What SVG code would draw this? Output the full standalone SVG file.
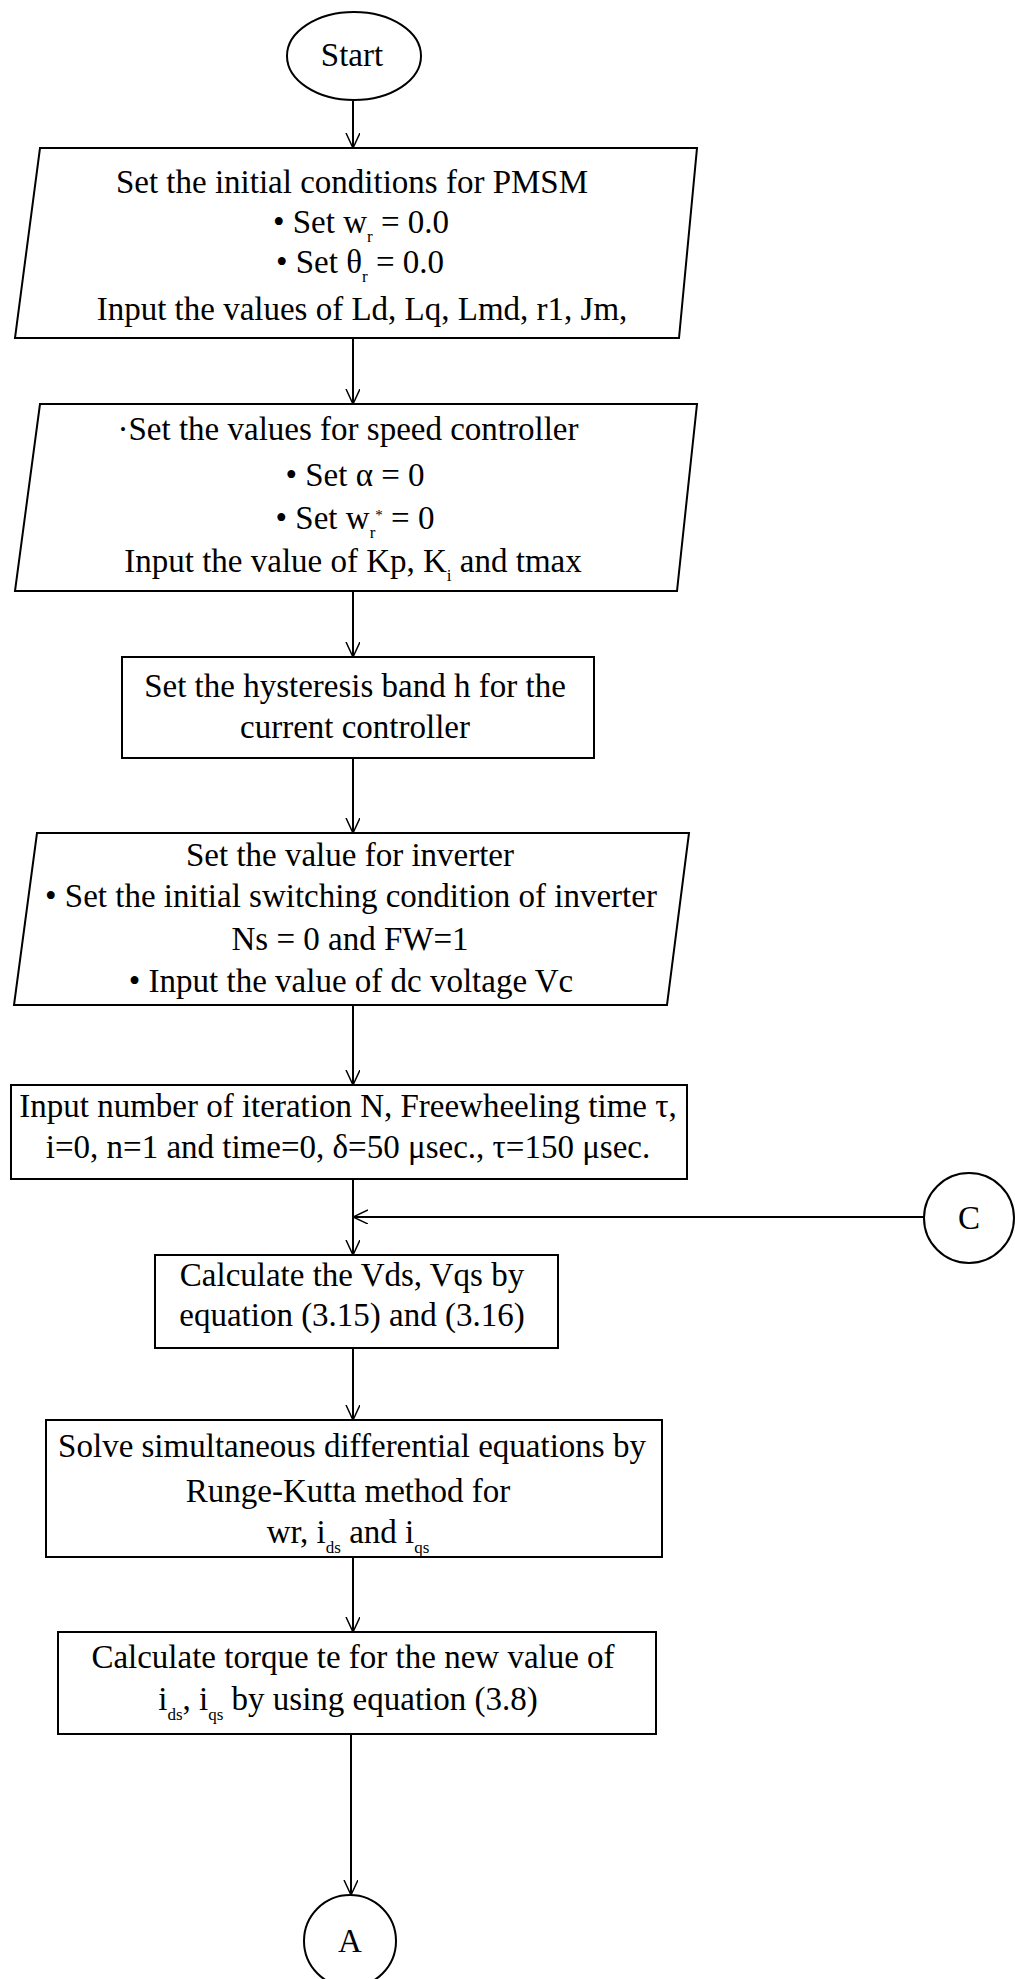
<svg xmlns="http://www.w3.org/2000/svg" width="1015" height="1979" viewBox="0 0 1015 1979">
<defs>
<marker id="ah" markerWidth="16" markerHeight="16" refX="15" refY="7" orient="auto" markerUnits="userSpaceOnUse">
<path d="M0,0 L15,7 L0,14" fill="none" stroke="#000" stroke-width="1.5"/>
</marker>
<style>
.s{fill:#fff;stroke:#000;stroke-width:2}
.c{fill:none;stroke:#000;stroke-width:2}
.t{font-family:"Liberation Serif","Times New Roman",serif;font-size:33px;fill:#000;text-anchor:middle}
.sub{font-size:17px}
.sup{font-size:15px}
</style>
</defs>
<rect width="1015" height="1979" fill="#fff"/>
<g id="connectors">
<line class="c" x1="353" y1="101" x2="353" y2="148" marker-end="url(#ah)"/>
<line class="c" x1="353" y1="338" x2="353" y2="404" marker-end="url(#ah)"/>
<line class="c" x1="353" y1="591" x2="353" y2="657" marker-end="url(#ah)"/>
<line class="c" x1="353" y1="758" x2="353" y2="833" marker-end="url(#ah)"/>
<line class="c" x1="353" y1="1005" x2="353" y2="1085" marker-end="url(#ah)"/>
<line class="c" x1="353" y1="1179" x2="353" y2="1255" marker-end="url(#ah)"/>
<line class="c" x1="924" y1="1217" x2="353" y2="1217" marker-end="url(#ah)"/>
<line class="c" x1="353" y1="1348" x2="353" y2="1420" marker-end="url(#ah)"/>
<line class="c" x1="353" y1="1557" x2="353" y2="1632" marker-end="url(#ah)"/>
<line class="c" x1="351" y1="1734" x2="351" y2="1895" marker-end="url(#ah)"/>
</g>
<g id="start">
<ellipse class="s" cx="354" cy="56" rx="67" ry="44"/>
<text class="t" x="352" y="66">Start</text>
</g>
<g id="init">
<polygon class="s" points="40,148 697,148 679,338 15,338"/>
<text class="t" x="352" y="193">Set the initial conditions for PMSM</text>
<text class="t" x="361" y="233">• Set w<tspan class="sub" dy="9">r</tspan><tspan dy="-9"> = 0.0</tspan></text>
<text class="t" x="360" y="273">• Set θ<tspan class="sub" dy="9">r</tspan><tspan dy="-9"> = 0.0</tspan></text>
<text class="t" x="362" y="320">Input the values of Ld, Lq, Lmd, r1, Jm,</text>
</g>
<g id="speed">
<polygon class="s" points="40,404 697,404 677,591 15,591"/>
<text class="t" x="348" y="440">·Set the values for speed controller</text>
<text class="t" x="355" y="486">• Set α = 0</text>
<text class="t" x="355" y="529">• Set w<tspan class="sub" dy="9">r</tspan><tspan class="sup" dy="-18">*</tspan><tspan dy="9"> = 0</tspan></text>
<text class="t" x="353" y="572">Input the value of Kp, K<tspan class="sub" dy="9">i</tspan><tspan dy="-9"> and tmax</tspan></text>
</g>
<g id="hysteresis">
<rect class="s" x="122" y="657" width="472" height="101"/>
<text class="t" x="355" y="697">Set the hysteresis band h for the</text>
<text class="t" x="355" y="738">current controller</text>
</g>
<g id="inverter">
<polygon class="s" points="37,833 689,833 667,1005 14,1005"/>
<text class="t" x="350" y="866">Set the value for inverter</text>
<text class="t" x="351" y="907">• Set the initial switching condition of inverter</text>
<text class="t" x="350" y="950">Ns = 0 and FW=1</text>
<text class="t" x="351" y="992">• Input the value of dc voltage Vc</text>
</g>
<g id="iteration">
<rect class="s" x="11" y="1085" width="676" height="94"/>
<text class="t" x="348" y="1117">Input number of iteration N, Freewheeling time τ,</text>
<text class="t" x="348" y="1158">i=0, n=1 and time=0, δ=50 μsec., τ=150 μsec.</text>
</g>
<g id="connectorC">
<circle class="s" cx="969" cy="1218" r="45"/>
<text class="t" x="969" y="1229">C</text>
</g>
<g id="vdsvqs">
<rect class="s" x="155" y="1255" width="403" height="93"/>
<text class="t" x="352" y="1286">Calculate the Vds, Vqs by</text>
<text class="t" x="352" y="1326">equation (3.15) and (3.16)</text>
</g>
<g id="rungekutta">
<rect class="s" x="46" y="1420" width="616" height="137"/>
<text class="t" x="352" y="1457">Solve simultaneous differential equations by</text>
<text class="t" x="348" y="1502">Runge-Kutta method for</text>
<text class="t" x="348" y="1543">wr, i<tspan class="sub" dy="10">ds</tspan><tspan dy="-10"> and i</tspan><tspan class="sub" dy="10">qs</tspan></text>
</g>
<g id="torque">
<rect class="s" x="58" y="1632" width="598" height="102"/>
<text class="t" x="353" y="1668">Calculate torque te for the new value of</text>
<text class="t" x="348" y="1710">i<tspan class="sub" dy="10">ds</tspan><tspan dy="-10">, i</tspan><tspan class="sub" dy="10">qs</tspan><tspan dy="-10"> by using equation (3.8)</tspan></text>
</g>
<g id="connectorA">
<circle class="s" cx="350" cy="1941" r="46"/>
<text class="t" x="350" y="1952">A</text>
</g>
</svg>
